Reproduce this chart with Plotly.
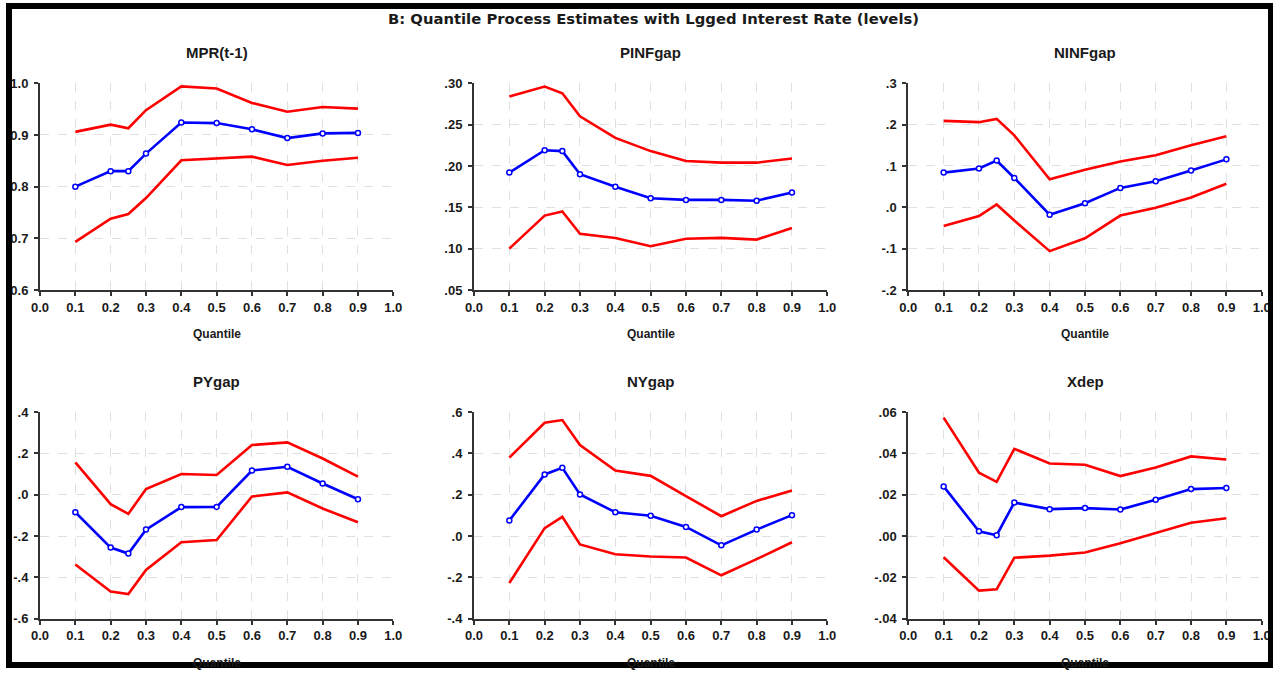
import plotly.graph_objects as go

W, H = 1273, 673

quantiles = [0.1, 0.2, 0.25, 0.3, 0.4, 0.5, 0.6, 0.7, 0.8, 0.9]

panel_titles = ["MPR(t-1)", "PINFgap", "NINFgap", "PYgap", "NYgap", "Xdep"]

est_mpr = [0.800, 0.830, 0.830, 0.864, 0.924, 0.923, 0.911, 0.894, 0.903, 0.904]
up_mpr = [0.906, 0.920, 0.913, 0.948, 0.994, 0.990, 0.962, 0.945, 0.954, 0.951]
lo_mpr = [0.693, 0.738, 0.747, 0.778, 0.851, 0.854, 0.858, 0.842, 0.850, 0.856]

est_pinf = [0.192, 0.219, 0.218, 0.190, 0.175, 0.161, 0.159, 0.159, 0.158, 0.168]
up_pinf = [0.284, 0.296, 0.288, 0.260, 0.234, 0.218, 0.206, 0.204, 0.204, 0.209]
lo_pinf = [0.100, 0.140, 0.145, 0.118, 0.113, 0.103, 0.112, 0.113, 0.111, 0.125]

est_ninf = [0.084, 0.094, 0.113, 0.071, -0.018, 0.010, 0.047, 0.063, 0.089, 0.116]
up_ninf = [0.209, 0.206, 0.214, 0.174, 0.068, 0.091, 0.111, 0.126, 0.150, 0.172]
lo_ninf = [-0.045, -0.021, 0.007, -0.032, -0.106, -0.075, -0.020, -0.001, 0.024, 0.057]

est_py = [-0.085, -0.256, -0.285, -0.169, -0.060, -0.059, 0.117, 0.135, 0.054, -0.022]
up_py = [0.156, -0.046, -0.093, 0.027, 0.100, 0.095, 0.240, 0.253, 0.175, 0.087]
lo_py = [-0.338, -0.469, -0.481, -0.364, -0.230, -0.219, -0.009, 0.011, -0.067, -0.133]

est_ny = [0.075, 0.298, 0.330, 0.201, 0.115, 0.098, 0.044, -0.045, 0.031, 0.101]
up_ny = [0.379, 0.548, 0.561, 0.440, 0.317, 0.291, 0.193, 0.096, 0.170, 0.220]
lo_ny = [-0.227, 0.038, 0.093, -0.041, -0.088, -0.099, -0.104, -0.190, -0.112, -0.030]

est_xdep = [0.0240, 0.0023, 0.0004, 0.0162, 0.0130, 0.0135, 0.0128, 0.0175, 0.0227, 0.0232]
up_xdep = [0.0573, 0.0306, 0.0262, 0.0422, 0.0351, 0.0345, 0.0290, 0.0332, 0.0385, 0.0370]
lo_xdep = [-0.0103, -0.0264, -0.0258, -0.0105, -0.0095, -0.0080, -0.0035, 0.0014, 0.0064, 0.0086]

x_tickvals = [0.0, 0.1, 0.2, 0.3, 0.4, 0.5, 0.6, 0.7, 0.8, 0.9, 1.0]
x_ticktext = ["0.0", "0.1", "0.2", "0.3", "0.4", "0.5", "0.6", "0.7", "0.8", "0.9", "1.0"]

yt_mpr = [0.6, 0.7, 0.8, 0.9, 1.0]
yl_mpr = ["0.6", "0.7", "0.8", "0.9", "1.0"]
yt_pinf = [0.05, 0.10, 0.15, 0.20, 0.25, 0.30]
yl_pinf = [".05", ".10", ".15", ".20", ".25", ".30"]
yt_ninf = [-0.2, -0.1, 0.0, 0.1, 0.2, 0.3]
yl_ninf = ["-.2", "-.1", ".0", ".1", ".2", ".3"]
yt_py = [-0.6, -0.4, -0.2, 0.0, 0.2, 0.4]
yl_py = ["-.6", "-.4", "-.2", ".0", ".2", ".4"]
yt_ny = [-0.4, -0.2, 0.0, 0.2, 0.4, 0.6]
yl_ny = ["-.4", "-.2", ".0", ".2", ".4", ".6"]
yt_xdep = [-0.04, -0.02, 0.0, 0.02, 0.04, 0.06]
yl_xdep = ["-.04", "-.02", ".00", ".02", ".04", ".06"]

panels = [
    (est_mpr, up_mpr, lo_mpr, yt_mpr, yl_mpr),
    (est_pinf, up_pinf, lo_pinf, yt_pinf, yl_pinf),
    (est_ninf, up_ninf, lo_ninf, yt_ninf, yl_ninf),
    (est_py, up_py, lo_py, yt_py, yl_py),
    (est_ny, up_ny, lo_ny, yt_ny, yl_ny),
    (est_xdep, up_xdep, lo_xdep, yt_xdep, yl_xdep),
]

FONT = "Liberation Sans, Arial, sans-serif"
TITLE_FONT = "DejaVu Sans, Liberation Sans, sans-serif"
TXT = "#1a1a1a"
AX = "#333333"
GRID = "#e0e0e0"

def px_x(p):
    return p / W

def px_y(p):
    return 1 - p / H

# plot-area pixel boxes (left, right, top, bottom)
col_px = [(40, 393.3), (474, 827.3), (908.3, 1261.7)]
row_px = [(83.3, 290.0), (412.0, 618.7)]

fig = go.Figure()
layout = dict(
    width=W, height=H,
    margin=dict(l=0, r=0, t=0, b=0, pad=0),
    paper_bgcolor="white", plot_bgcolor="white",
    showlegend=False,
    font=dict(family=FONT, color=TXT),
)
annotations = []

for i, (est, up, lo, yt, yl) in enumerate(panels):
    r, c = divmod(i, 3)
    n = "" if i == 0 else str(i + 1)
    xa, ya = "x" + n, "y" + n
    for series, color, mk in ((up, "#ff0000", False), (lo, "#ff0000", False), (est, "#0000ff", True)):
        tr = dict(x=quantiles, y=series, xaxis=xa, yaxis=ya,
                  line=dict(color=color, width=2.6), hoverinfo="skip")
        if mk:
            tr["mode"] = "lines+markers"
            tr["marker"] = dict(symbol="circle", size=5, color="white",
                                line=dict(color=color, width=1.5))
        else:
            tr["mode"] = "lines"
        fig.add_trace(go.Scatter(**tr))
    xl, xr = col_px[c]
    yt_px, yb_px = row_px[r]
    layout["xaxis" + n] = dict(
        domain=[px_x(xl), px_x(xr)], anchor=ya, range=[0, 1],
        tickmode="array", tickvals=x_tickvals, ticktext=x_ticktext,
        showgrid=False, zeroline=False, showline=True, linecolor=AX, linewidth=2,
        ticks="outside", ticklen=4, tickwidth=1.5, tickcolor=AX,
        ticklabelstandoff=0,
        tickfont=dict(family=FONT, size=13, color=TXT, weight="bold"),
        minor=dict(tickmode="array", tickvals=x_tickvals[1:-1], showgrid=True,
                   gridcolor=GRID, griddash="dash", gridwidth=1, ticks=""),
        automargin=False, fixedrange=True,
    )
    layout["yaxis" + n] = dict(
        domain=[px_y(yb_px), px_y(yt_px)], anchor=xa, range=[yt[0], yt[-1]],
        tickmode="array", tickvals=yt, ticktext=yl,
        showgrid=False, zeroline=False, showline=True, linecolor=AX, linewidth=2,
        ticks="outside", ticklen=4, tickwidth=1.5, tickcolor=AX,
        ticklabelstandoff=3,
        tickfont=dict(family=FONT, size=13, color=TXT, weight="bold"),
        minor=dict(tickmode="array", tickvals=yt[1:-1], showgrid=True,
                   gridcolor=GRID, griddash="dash", gridwidth=1, ticks=""),
        automargin=False, fixedrange=True,
    )
    cx = px_x((xl + xr) / 2)
    title_y = 52.3 if r == 0 else 381.0
    annotations.append(dict(text=panel_titles[i], x=cx, y=px_y(title_y), xref="paper", yref="paper",
                            showarrow=False, xanchor="center", yanchor="middle",
                            font=dict(family=FONT, size=15, color=TXT, weight="bold")))
    q_y = 334.0 if r == 0 else 663.0
    annotations.append(dict(text="Quantile", x=cx, y=px_y(q_y), xref="paper", yref="paper",
                            showarrow=False, xanchor="center", yanchor="middle",
                            font=dict(family=FONT, size=12, color=TXT, weight="bold")))

annotations.append(dict(text="B: Quantile Process Estimates with Lgged Interest Rate (levels)",
                        x=px_x(653), y=px_y(18.5), xref="paper", yref="paper",
                        showarrow=False, xanchor="center", yanchor="middle",
                        font=dict(family=TITLE_FONT, size=14.8, color=TXT, weight="bold")))

layout["annotations"] = annotations
layout["shapes"] = [dict(type="rect", xref="paper", yref="paper",
                         x0=px_x(9), x1=px_x(1271), y0=px_y(665), y1=px_y(6),
                         line=dict(color="black", width=6), fillcolor="rgba(0,0,0,0)",
                         layer="above")]

fig.update_layout(**layout)
fig.write_html("out.html")
